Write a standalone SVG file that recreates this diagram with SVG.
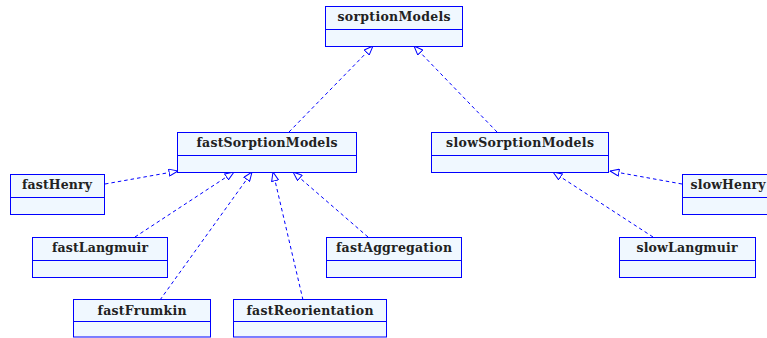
<svg xmlns="http://www.w3.org/2000/svg" width="767" height="338" viewBox="0 0 767 338">
  <style>
    .box { fill: #f0f8ff; stroke: #0000ff; stroke-width: 1; }
    .sep { stroke: #0000ff; stroke-width: 1; }
    .name { font-family: "DejaVu Serif", "Liberation Serif", serif; font-weight: bold; font-size: 12.5px; fill: #222; text-anchor: middle; }
    .gen { fill: none; stroke: #0000ff; stroke-width: 1; stroke-dasharray: 3.5 3; marker-end: url(#hollow); }
  </style>
  <defs>
    <marker id="hollow" viewBox="0 0 10 8" refX="9.5" refY="4" markerWidth="10" markerHeight="8" markerUnits="userSpaceOnUse" orient="auto">
      <path d="M0.5,0.5 L9.5,4 L0.5,7.5 Z" fill="#ffffff" stroke="#0000ff" stroke-width="1"/>
    </marker>
  </defs>
  <rect width="767" height="338" fill="#ffffff"/>

  <g id="connectors">
    <path class="gen" d="M289,132 L373,46"/>
    <path class="gen" d="M497,132 L414,46"/>
    <path class="gen" d="M105,184 L178,171"/>
    <path class="gen" d="M135,237 L234,172"/>
    <path class="gen" d="M160,300 L252,172"/>
    <path class="gen" d="M303,300 L273,172"/>
    <path class="gen" d="M368,237 L293,172"/>
    <path class="gen" d="M682,184 L610,171"/>
    <path class="gen" d="M653,237 L553,172"/>
  </g>

  <g id="sorptionModels">
    <rect class="box" x="325.5" y="6.5" width="137" height="40"/>
    <line class="sep" x1="325.5" y1="29.5" x2="462.5" y2="29.5"/>
    <text class="name" x="394" y="21" textLength="113">sorptionModels</text>
  </g>
  <g id="fastSorptionModels">
    <rect class="box" x="177.5" y="132.5" width="179" height="40"/>
    <line class="sep" x1="177.5" y1="155.5" x2="356.5" y2="155.5"/>
    <text class="name" x="267" y="147" textLength="141">fastSorptionModels</text>
  </g>
  <g id="slowSorptionModels">
    <rect class="box" x="431.5" y="132.5" width="177" height="40"/>
    <line class="sep" x1="431.5" y1="155.5" x2="608.5" y2="155.5"/>
    <text class="name" x="520" y="147" textLength="148">slowSorptionModels</text>
  </g>
  <g id="fastHenry">
    <rect class="box" x="10.5" y="174.5" width="94" height="40"/>
    <line class="sep" x1="10.5" y1="197.5" x2="104.5" y2="197.5"/>
    <text class="name" x="57" y="189" textLength="70">fastHenry</text>
  </g>
  <g id="slowHenry">
    <rect class="box" x="682.5" y="174.5" width="94" height="40"/>
    <line class="sep" x1="682.5" y1="197.5" x2="776.5" y2="197.5"/>
    <text class="name" x="728" y="189" textLength="75">slowHenry</text>
  </g>
  <g id="fastLangmuir">
    <rect class="box" x="32.5" y="237.5" width="135" height="40"/>
    <line class="sep" x1="32.5" y1="260.5" x2="167.5" y2="260.5"/>
    <text class="name" x="100" y="252" textLength="96">fastLangmuir</text>
  </g>
  <g id="fastAggregation">
    <rect class="box" x="326.5" y="237.5" width="135" height="40"/>
    <line class="sep" x1="326.5" y1="260.5" x2="461.5" y2="260.5"/>
    <text class="name" x="394" y="252" textLength="116">fastAggregation</text>
  </g>
  <g id="slowLangmuir">
    <rect class="box" x="619.5" y="237.5" width="136" height="40"/>
    <line class="sep" x1="619.5" y1="260.5" x2="755.5" y2="260.5"/>
    <text class="name" x="687" y="252" textLength="101">slowLangmuir</text>
  </g>
  <g id="fastFrumkin">
    <rect class="box" x="73.5" y="299.5" width="137" height="37.5"/>
    <line class="sep" x1="73.5" y1="321.5" x2="210.5" y2="321.5"/>
    <text class="name" x="142" y="315" textLength="89">fastFrumkin</text>
  </g>
  <g id="fastReorientation">
    <rect class="box" x="233.5" y="299.5" width="153" height="37.5"/>
    <line class="sep" x1="233.5" y1="321.5" x2="386.5" y2="321.5"/>
    <text class="name" x="310" y="315" textLength="127">fastReorientation</text>
  </g>
</svg>
